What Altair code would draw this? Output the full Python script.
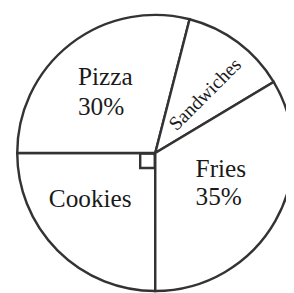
import math
import altair as alt
import pandas as pd

# Data (slice shares as drawn, in percent)
categories = ["Cookies", "Pizza", "Sandwiches", "Fries"]
shares = [25, 29, 12.4, 33.6]
slice_order = [0, 1, 2, 3]

# Label texts
label_texts = ["Pizza", "30%", "Cookies", "Fries", "35%"]
label_x = [72, 72, 42, 193, 193]
label_y = [75, 106, 201, 170, 199]
side_text = ["Sandwiches"]
side_x = [203]
side_y = [85]

CX, CY, R = 151.5, 145, 142
LINE = "#333333"
INK = "#1a1a1a"
FONT = "Liberation Serif"

pie = pd.DataFrame({"food": categories, "share": shares, "order": slice_order})

arcs = alt.Chart(pie).mark_arc(
    radius=R, stroke=LINE, strokeWidth=2.5, fill="white", x=CX, y=CY
).encode(
    theta=alt.Theta("share:Q", stack=True,
                    scale=alt.Scale(range=[math.pi, 3 * math.pi])),
    order=alt.Order("order:Q"),
)

labels = pd.DataFrame({"t": label_texts, "x": label_x, "y": label_y})
text = alt.Chart(labels).mark_text(
    align="left", baseline="alphabetic", font=FONT, fontSize=26, color=INK
).encode(
    x=alt.X("x:Q", scale=None),
    y=alt.Y("y:Q", scale=None),
    text="t:N",
)

side = pd.DataFrame({"t": side_text, "x": side_x, "y": side_y})
side_label = alt.Chart(side).mark_text(
    align="center", baseline="middle", font=FONT, fontSize=20, color=INK, angle=315
).encode(
    x=alt.X("x:Q", scale=None),
    y=alt.Y("y:Q", scale=None),
    text="t:N",
)

# right-angle marker at the centre (Cookies quadrant)
marker = pd.DataFrame({"x": [CX - 8], "y": [CY + 8]})
square = alt.Chart(marker).mark_point(
    shape="square", size=225, filled=False, stroke=LINE, strokeWidth=2.5, opacity=1
).encode(
    x=alt.X("x:Q", scale=None),
    y=alt.Y("y:Q", scale=None),
)

chart = alt.layer(arcs, square, text, side_label).properties(
    width=286, height=285, padding=0, background="white",
    autosize=alt.AutoSizeParams(type="none")
).configure_view(stroke=None)

chart.save("out.html", embed_options={"renderer": "svg", "actions": False})
